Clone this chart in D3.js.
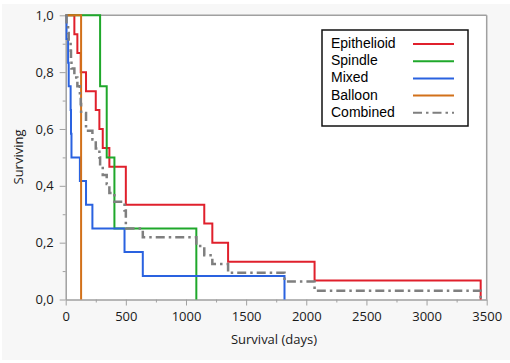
<!DOCTYPE html>
<html><head><meta charset="utf-8">
<script src="https://cdn.jsdelivr.net/npm/d3@7"></script>
<style>
html,body{margin:0;padding:0;background:#fff;}
svg{display:block;}
</style></head>
<body>
<svg id="chart" width="510" height="363"></svg>
<script>
// ---- data ----
const seriesNames = ["Epithelioid", "Spindle", "Mixed", "Balloon", "Combined"];
const epithelioidTimes = [0, 72, 97, 125, 169, 250, 280, 308, 363, 500, 1152, 1219, 1350, 2069, 3450];
const epithelioidSurv  = [1, 0.933, 0.867, 0.8, 0.733, 0.667, 0.6, 0.533, 0.467, 0.333, 0.267, 0.2, 0.133, 0.067, 0];
const spindleTimes = [0, 286, 341, 405, 1086];
const spindleSurv  = [1, 0.75, 0.5, 0.25, 0];
const mixedTimes = [0, 7, 20, 25, 41, 44, 48, 118, 169, 222, 489, 641, 1819];
const mixedSurv  = [1, 0.917, 0.833, 0.75, 0.667, 0.583, 0.5, 0.417, 0.333, 0.25, 0.167, 0.083, 0];
const balloonTimes = [0, 128];
const balloonSurv  = [1, 0];
const combinedTimes = [0, 7, 20, 25, 41, 44, 48, 72, 97, 118, 125, 128, 169, 222, 250, 280, 286, 308, 341, 363, 405, 489, 500, 641, 1086, 1152, 1219, 1350, 1819, 2069, 3450];
const combinedSurv  = [1, 0.969, 0.938, 0.906, 0.875, 0.844, 0.813, 0.781, 0.75, 0.719, 0.688, 0.656, 0.594, 0.563, 0.531, 0.5, 0.469, 0.438, 0.406, 0.375, 0.344, 0.313, 0.25, 0.219, 0.188, 0.156, 0.125, 0.094, 0.063, 0.031, 0];
const xTicks = [0, 500, 1000, 1500, 2000, 2500, 3000, 3500];
const xTickLabels = ["0", "500", "1000", "1500", "2000", "2500", "3000", "3500"];
const yTicks = [0, 0.2, 0.4, 0.6, 0.8, 1.0];
const yTickLabels = ["0,0", "0,2", "0,4", "0,6", "0,8", "1,0"];
const xTitle = "Survival (days)";
const yTitle = "Surviving";

// ---- layout ----
const L = 65.7, R = 486.7, T = 15.3, B = 299.5;
const svg = d3.select("#chart");
svg.append("rect").attr("x", 2).attr("y", 4).attr("width", 508).attr("height", 356).attr("fill", "#f7f7f7");
svg.append("rect").attr("x", L).attr("y", T).attr("width", R - L).attr("height", B - T).attr("fill", "#fff");

const x = d3.scaleLinear().domain([0, 3500]).range([L, R]);
const y = d3.scaleLinear().domain([0, 1]).range([B, T]);

const axisColor = "#a0a0a0";
const labelFont = "'Open Sans','Noto Sans',sans-serif";

// frame top and right
svg.append("line").attr("x1", L).attr("x2", R).attr("y1", T).attr("y2", T).attr("stroke", axisColor).attr("stroke-width", 1.5);
svg.append("line").attr("x1", R).attr("x2", R).attr("y1", T).attr("y2", B).attr("stroke", axisColor).attr("stroke-width", 1.5);

// x axis
const xAxis = d3.axisBottom(x).tickValues(xTicks).tickFormat((d, i) => xTickLabels[i]).tickSize(6).tickPadding(6).tickSizeOuter(0);
const gx = svg.append("g").attr("transform", `translate(0,${B})`).call(xAxis);
const xMinor = d3.axisBottom(x).tickValues(d3.range(250, 3500, 500)).tickFormat("").tickSize(3).tickSizeOuter(0);
const gxm = svg.append("g").attr("transform", `translate(0,${B})`).call(xMinor);
gxm.select(".domain").remove();

// y axis
const yAxis = d3.axisLeft(y).tickValues(yTicks).tickFormat((d, i) => yTickLabels[i]).tickSize(6).tickPadding(6).tickSizeOuter(0);
const gy = svg.append("g").attr("transform", `translate(${L},0)`).call(yAxis);
const yMinor = d3.axisLeft(y).tickValues([0.1, 0.3, 0.5, 0.7, 0.9]).tickFormat("").tickSize(3).tickSizeOuter(0);
const gym = svg.append("g").attr("transform", `translate(${L},0)`).call(yMinor);
gym.select(".domain").remove();

[gx, gxm, gy, gym].forEach(g => {
  g.selectAll(".domain").attr("stroke", axisColor).attr("stroke-width", 1.5);
  g.selectAll(".tick line").attr("stroke", axisColor).attr("stroke-width", 1);
  g.selectAll(".tick text").attr("fill", "#1a1a1a").style("font-family", labelFont).style("font-size", "13px");
});

// titles
svg.append("text").attr("x", 274).attr("y", 344).attr("text-anchor", "middle")
  .style("font-family", labelFont).style("font-size", "13px").attr("fill", "#1a1a1a").text(xTitle);
svg.append("text").attr("transform", `translate(23,157) rotate(-90)`).attr("text-anchor", "middle")
  .style("font-family", labelFont).style("font-size", "13px").attr("fill", "#1a1a1a").text(yTitle);

// curves
const series = [
  {name: "Epithelioid", t: epithelioidTimes, s: epithelioidSurv, color: "#e0202c", dash: null, w: 2},
  {name: "Spindle", t: spindleTimes, s: spindleSurv, color: "#1fa82b", dash: null, w: 2},
  {name: "Mixed", t: mixedTimes, s: mixedSurv, color: "#2a62e0", dash: null, w: 2},
  {name: "Balloon", t: balloonTimes, s: balloonSurv, color: "#d2711a", dash: null, w: 2},
  {name: "Combined", t: combinedTimes, s: combinedSurv, color: "#7f7f7f", dash: "9,4,2.5,4", w: 2.5}
];
const line = d3.line().x(d => x(d[0])).y(d => y(d[1])).curve(d3.curveStepAfter);
series.forEach(sr => {
  const pts = sr.t.map((t, i) => [t, sr.s[i]]);
  svg.append("path").attr("d", line(pts)).attr("fill", "none").attr("stroke", sr.color)
    .attr("stroke-width", sr.w).attr("stroke-dasharray", sr.dash);
});

// legend
const lg = svg.append("g");
lg.append("rect").attr("x", 322).attr("y", 30).attr("width", 146).attr("height", 96)
  .attr("fill", "#fff").attr("stroke", "#111").attr("stroke-width", 1.5);
series.forEach((sr, i) => {
  const cy = 43 + i * 17.2;
  lg.append("text").attr("x", 331).attr("y", cy).attr("dy", "0.35em")
    .style("font-family", "'Liberation Sans',Arial,sans-serif").style("font-size", "14px").attr("fill", "#000").text(sr.name);
  lg.append("line").attr("x1", 413).attr("x2", 454).attr("y1", cy + 1).attr("y2", cy + 1)
    .attr("stroke", sr.color).attr("stroke-width", 2).attr("stroke-dasharray", sr.dash);
});
</script>
</body></html>
